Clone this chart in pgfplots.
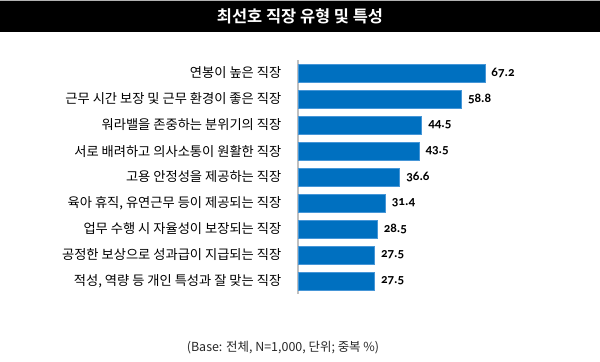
\documentclass[border=0pt]{standalone}
\usepackage{pgfplots}
\pgfplotsset{compat=1.18}
\usepackage{fontspec}
\setmainfont{Noto Sans CJK KR}[BoldFont={Noto Sans CJK KR Bold}]
\newfontfamily\numfont{Carlito}[Numbers=OldStyle]
\definecolor{barblue}{RGB}{0,112,192}
\definecolor{baredge}{RGB}{70,150,215}
\begin{document}
\begin{tikzpicture}[x=1bp,y=1bp]
\path[use as bounding box] (0,0) rectangle (600,361);
\fill[black] (0,329) rectangle (600,360);
\draw[gray!60, line width=0.8pt] (0,360.6) -- (600,360.6);
\node[text=white, font=\fontsize{16.5}{19}\selectfont\bfseries] at (300,344.5) {최선호 직장 유형 및 특성};
\begin{axis}[
  at={(298bp,67bp)}, anchor=south west,
  scale only axis, width=278bp, height=234bp,
  xmin=0, xmax=100, ymin=-0.5, ymax=8.5,
  y dir=reverse, xbar, bar width=17.7bp,
  axis x line=none, axis y line*=left,
  y axis line style={draw=gray!50, line width=1.5pt, -},
  ytick={0,...,8},
  yticklabels={연봉이 높은 직장, 근무 시간 보장 및 근무 환경이 좋은 직장, 워라밸을 존중하는 분위기의 직장, 서로 배려하고 의사소통이 원활한 직장, 고용 안정성을 제공하는 직장, {육아 휴직, 유연근무 등이 제공되는 직장}, 업무 수행 시 자율성이 보장되는 직장, 공정한 보상으로 성과급이 지급되는 직장, {적성, 역량 등 개인 특성과 잘 맞는 직장}},
  ytick style={draw=none},
  yticklabel style={font=\fontsize{13.3}{15}\selectfont, xshift=-9bp},
  point meta=explicit symbolic,
  nodes near coords,
  nodes near coords style={font=\numfont\bfseries\fontsize{13}{15}\selectfont, anchor=west, xshift=3bp},
  clip=false,
]
\addplot[fill=barblue, draw=baredge, line width=0.6pt] coordinates {
(67.2,0) [67.2]
(58.8,1) [58.8]
(44.5,2) [44.5]
(43.5,3) [43.5]
(36.6,4) [36.6]
(31.4,5) [31.4]
(28.5,6) [28.5]
(27.5,7) [27.5]
(27.5,8) [27.5]
};
\end{axis}
\node[text=black!85, font=\fontsize{12.5}{14}\selectfont] at (283,13) {(Base: 전체, N=1,000, 단위; 중복 \%)};
\end{tikzpicture}
\end{document}
